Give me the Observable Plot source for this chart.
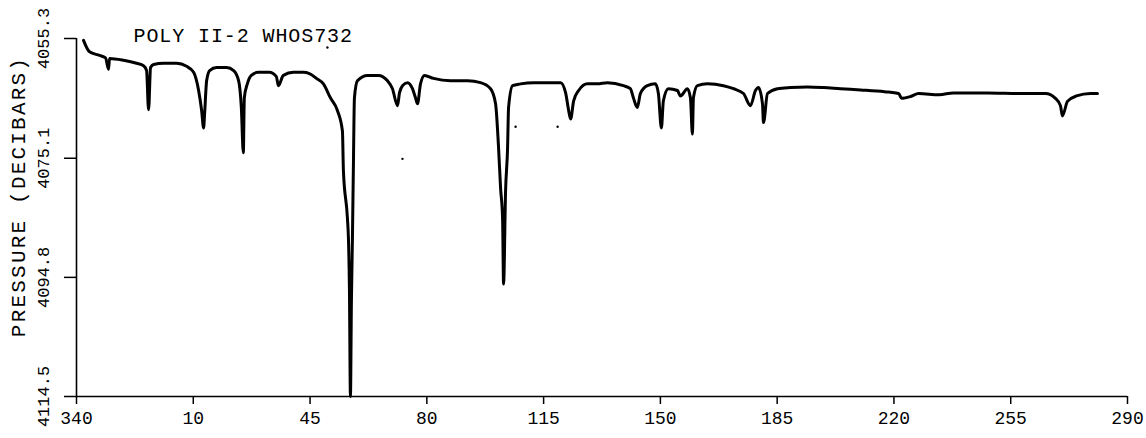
<!DOCTYPE html>
<html><head><meta charset="utf-8">
<script src="https://cdn.jsdelivr.net/npm/d3@7"></script>
<script src="https://cdn.jsdelivr.net/npm/@observablehq/plot@0.6"></script>
<style>body{margin:0;background:#fff}</style>
</head><body><div id="chart"></div>
<script>
const title = "POLY II-2 WHOS732";
const yLabel = "PRESSURE (DECIBARS)";
const xTickPositions = [0, 35, 70, 105, 140, 175, 210, 245, 280, 315];
const xTickLabels = ["340", "10", "45", "80", "115", "150", "185", "220", "255", "290"];
const yTicks = [4055.3, 4075.1, 4094.8, 4114.5];

const traceX = [
  2.1, 3.9, 6.9, 8.7, 9.6, 9.9, 14.1, 18.0, 20.1, 21.0, 21.6, 22.2, 23.1, 26.1, 30.0, 33.0, 35.1, 36.6, 37.5, 38.1,
  38.4, 39.0, 39.9, 42.0, 45.0, 47.1, 48.6, 49.4, 50.0, 50.3, 51.2, 52.4, 54.5, 57.8, 59.9, 60.5, 62.0, 65.0, 68.0, 69.8,
  71.9, 74.0, 76.1, 78.2, 79.7, 80.0, 81.2, 81.5, 81.8, 82.1, 82.4, 82.7, 83.0, 83.3, 84.2, 87.2, 90.5, 93.2, 94.7, 96.2,
  96.8, 97.7, 99.2, 100.7, 101.6, 102.2, 103.1, 104.3, 107.0, 112.1, 117.2, 121.1, 124.1, 125.6, 126.5, 127.1, 127.7, 128.0, 128.6, 129.2,
  129.5, 130.7, 133.1, 137.0, 142.1, 145.1, 146.6, 147.5, 148.1, 149.0, 150.5, 153.2, 156.1, 159.1, 163.9, 166.0, 166.9, 168.1, 169.0, 171.1,
  173.5, 174.4, 175.3, 175.9, 177.4, 180.1, 181.0, 183.1, 184.0, 184.6, 184.9, 186.1, 189.1, 193.9, 196.9, 199.9, 202.0, 203.5, 204.4, 205.6,
  205.9, 207.1, 210.1, 214.0, 219.1, 223.9, 229.0, 235.0, 242.2, 246.4, 247.3, 250.0, 252.4, 258.6, 262.8, 273.0, 283.2, 290.4, 293.4, 294.9,
  295.5, 297.0, 299.7, 303.9, 306.0
];
const tracePressure = [
  4055.6, 4057.5, 4058.1, 4058.5, 4060.4, 4058.6, 4058.9, 4059.4, 4059.8, 4060.6, 4067.1, 4060.1, 4059.6, 4059.4, 4059.4, 4059.9, 4060.9, 4063.9, 4067.2, 4070.1,
  4067.7, 4062.3, 4060.6, 4060.1, 4060.1, 4060.6, 4062.3, 4066.7, 4074.2, 4065.1, 4062.8, 4061.4, 4060.9, 4060.9, 4061.6, 4063.1, 4061.4, 4060.9, 4060.9, 4061.1,
  4061.9, 4062.8, 4065.1, 4067.2, 4070.6, 4077.2, 4085.0, 4088.3, 4096.6, 4114.5, 4098.7, 4088.3, 4076.0, 4065.1, 4062.3, 4061.4, 4061.4, 4062.3, 4063.6, 4066.4,
  4064.3, 4063.1, 4062.6, 4063.6, 4065.1, 4066.1, 4062.8, 4061.4, 4061.9, 4062.3, 4062.3, 4062.6, 4063.6, 4066.1, 4073.4, 4080.0, 4085.0, 4095.9, 4080.5, 4073.4,
  4066.7, 4063.1, 4062.8, 4062.6, 4062.6, 4062.6, 4064.3, 4067.2, 4068.6, 4065.6, 4063.9, 4062.8, 4062.8, 4062.6, 4063.1, 4063.6, 4065.1, 4066.7, 4064.4, 4063.1,
  4062.8, 4064.4, 4070.1, 4065.6, 4063.6, 4063.9, 4064.8, 4063.6, 4065.1, 4071.1, 4065.1, 4063.1, 4062.8, 4063.1, 4063.6, 4064.4, 4066.4, 4063.9, 4063.4, 4066.1,
  4069.2, 4064.4, 4063.6, 4063.4, 4063.3, 4063.4, 4063.6, 4063.8, 4064.1, 4064.4, 4065.2, 4064.9, 4064.4, 4064.6, 4064.3, 4064.3, 4064.4, 4064.4, 4065.2, 4066.4,
  4068.1, 4065.7, 4064.8, 4064.4, 4064.4
];

// isolated stray plotter dots seen in the original
const strayX = [75.2, 131.6, 144.2, 97.7];
const strayPressure = [4056.8, 4069.9, 4069.9, 4075.2];

const data = traceX.map((x, i) => ({x, p: tracePressure[i]}));
const stray = strayX.map((x, i) => ({x, p: strayPressure[i]}));
const font = "'Liberation Mono', 'DejaVu Sans Mono', monospace";

const plot = Plot.plot({
  width: 1146, height: 438,
  marginLeft: 76, marginRight: 19, marginTop: 38, marginBottom: 42,
  style: {fontFamily: font, background: "#fff", color: "#000"},
  x: {domain: [0, 315]},
  y: {domain: [4055.3, 4114.5], reverse: true},
  marks: [
    Plot.ruleX([0], {stroke: "#000", strokeWidth: 1.6}),
    Plot.ruleY([4114.5], {stroke: "#000", strokeWidth: 1.6}),
    Plot.axisX({ticks: xTickPositions, tickSize: 8, tickPadding: 7, strokeWidth: 1.5,
      tickFormat: d => xTickLabels[xTickPositions.indexOf(d)], fontSize: 18, label: null}),
    Plot.axisY({ticks: yTicks, tickSize: 12, strokeWidth: 1.5, tickFormat: () => "", label: null}),
    Plot.text(yTicks, {y: d => d, frameAnchor: "left", textAnchor: "middle", text: d => d.toFixed(1), rotate: -90, dx: -33, fontSize: 17}),
    Plot.text([yLabel], {frameAnchor: "left", textAnchor: "middle", rotate: -90, dx: -58, dy: -21, fontSize: 21}),
    Plot.text([title], {frameAnchor: "top-left", textAnchor: "start", dx: 57, dy: -11, fontSize: 20}),
    Plot.dot(stray, {x: "x", y: "p", r: 1.2, fill: "#000", stroke: "none"}),
    Plot.line(data, {x: "x", y: "p", stroke: "#000", strokeWidth: 3, curve: "monotone-x"})
  ]
});
d3.select(plot).selectAll("text").each(function() {
  if (this.textContent === yLabel) this.setAttribute("letter-spacing", "2.2");
  if (this.textContent === title) this.setAttribute("letter-spacing", "0.9");
});
document.getElementById("chart").appendChild(plot);
</script>
</body></html>
